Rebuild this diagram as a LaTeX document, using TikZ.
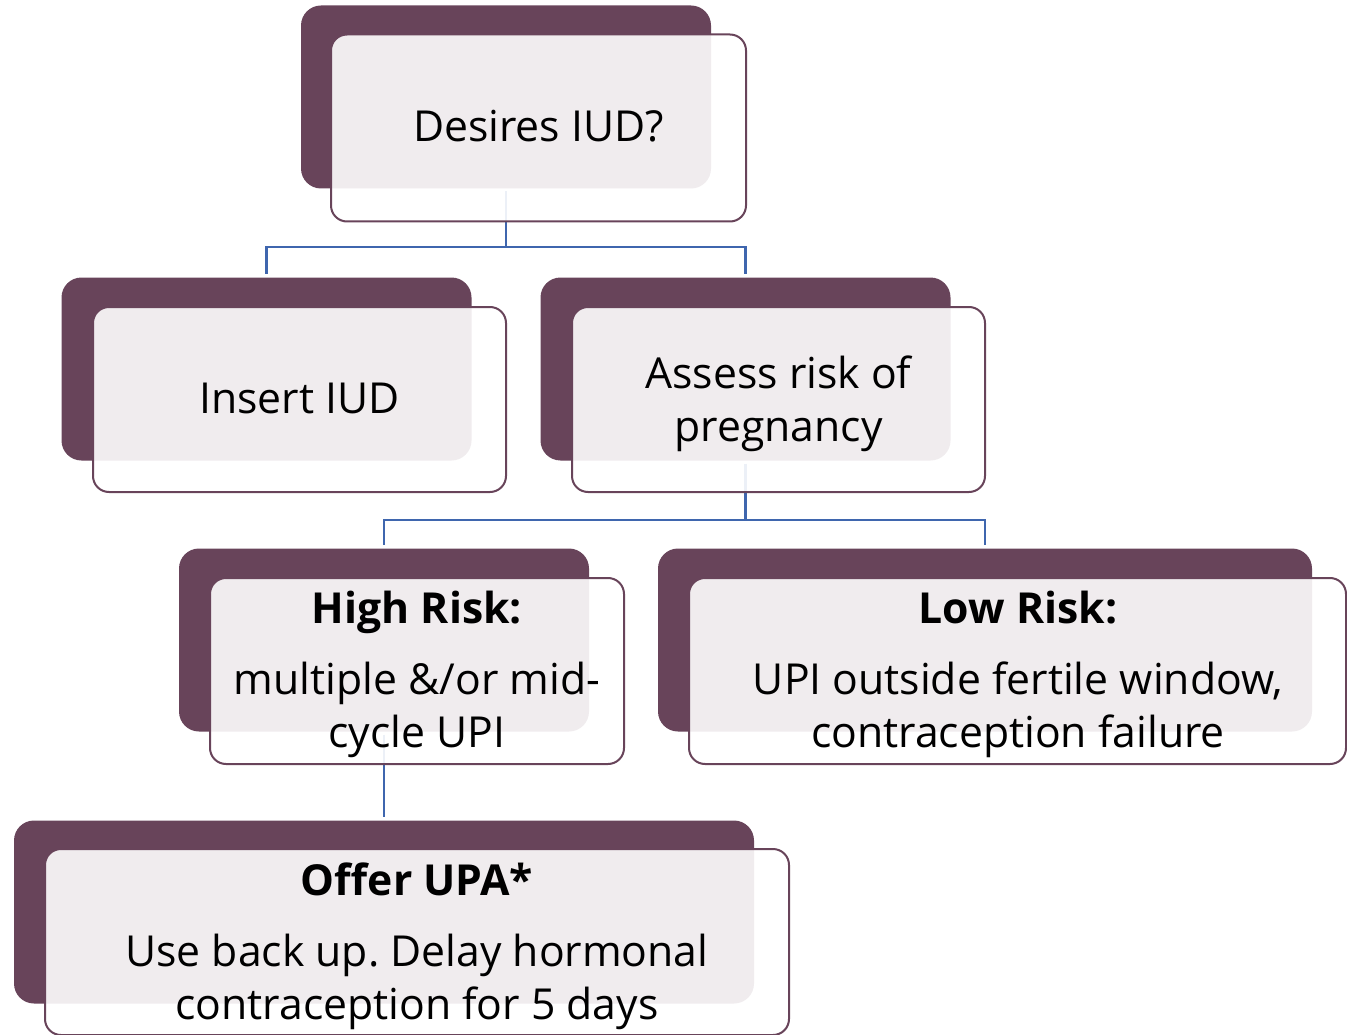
\documentclass[tikz,border=0pt]{standalone}
\usepackage{fontspec}
\setmainfont{Open Sans}
\frenchspacing
\definecolor{plum}{HTML}{68445A}
\definecolor{connblue}{HTML}{3F66AE}
\tikzset{
  darkbox/.style={rectangle, rounded corners=20pt, fill=plum, draw=none, inner sep=0pt, outer sep=0pt},
  frontbox/.style={rectangle, rounded corners=16pt, fill=white, fill opacity=0.9, draw=plum, line width=2pt, inner sep=0pt, outer sep=0pt},
  conn/.style={draw=connblue, line width=2.5pt},
  lbl/.style={font=\fontsize{42.7}{53}\selectfont, anchor=base, inner sep=0pt, text=black},
  lblb/.style={font=\fontsize{42.7}{53}\selectfont\bfseries, anchor=base, inner sep=0pt, text=black},
}
\begin{document}
\begin{tikzpicture}[x=1pt,y=-1pt]
\useasboundingbox (0,0) rectangle (1347,1035);
% dark back boxes
\node[darkbox, minimum width=410pt, minimum height=183pt] (d1) at (506,97) {};
\node[darkbox, minimum width=410pt, minimum height=183pt] (d2) at (266.5,369) {};
\node[darkbox, minimum width=410pt, minimum height=183pt] (d3) at (745.5,369) {};
\node[darkbox, minimum width=410pt, minimum height=183pt] (d4) at (384,640) {};
\node[darkbox, minimum width=654pt, minimum height=183pt] (d5) at (985,640) {};
\node[darkbox, minimum width=740pt, minimum height=183pt] (d6) at (384,912) {};
% bus coordinates
\coordinate (bus1) at (506,247);
\coordinate (bus2) at (745.5,520);
% connectors
\draw[conn, shorten <=3pt] (d1.south) -- (d1.south |- bus1);
\draw[conn, shorten >=4pt] (d1.south |- bus1) -| (d2.north);
\draw[conn, shorten >=4pt] (d1.south |- bus1) -| (d3.north);
\draw[conn, shorten <=3pt] (d3.south) -- (d3.south |- bus2);
\draw[conn, shorten >=4pt] (d3.south |- bus2) -| (d4.north);
\draw[conn, shorten >=4pt] (d3.south |- bus2) -| (d5.north);
\draw[conn, shorten <=3pt, shorten >=4pt] (d4.south) -- (d6.north);
% front boxes
\node[frontbox, minimum width=415pt, minimum height=187pt] (f1) at (538.5,128) {};
\node[frontbox, minimum width=413pt, minimum height=185pt] (f2) at (299.5,399.5) {};
\node[frontbox, minimum width=413pt, minimum height=185pt] (f3) at (778.5,399.5) {};
\node[frontbox, minimum width=414pt, minimum height=186pt] (f4) at (417,671) {};
\node[frontbox, minimum width=657pt, minimum height=186pt] (f5) at (1017.5,671) {};
\node[frontbox, minimum width=744pt, minimum height=186pt] (f6) at (417,942) {};
% labels
\node[lbl] (t1) at (538.5,142) {Desires IUD?};
\node[lbl] (t2) at (299.5,413) {Insert IUD};
\node[lbl] (t3a) at (778.5,388) {Assess risk of};
\node[lbl] (t3b) at (778.5,441) {pregnancy};
\node[lblb] (t4h) at (417,623) {High Risk:};
\node[lbl] (t4a) at (417,694) {multiple \&/or mid-};
\node[lbl] (t4b) at (417,747) {cycle UPI};
\node[lblb] (t5h) at (1018,623) {Low Risk:};
\node[lbl] (t5a) at (1018,694) {UPI outside fertile window,};
\node[lbl] (t5b) at (1018,747) {contraception failure};
\node[lblb] (t6h) at (417,895) {Offer UPA*};
\node[lbl] (t6a) at (417,966) {Use back up. Delay hormonal};
\node[lbl] (t6b) at (417,1019) {contraception for 5 days};
\end{tikzpicture}
\end{document}
